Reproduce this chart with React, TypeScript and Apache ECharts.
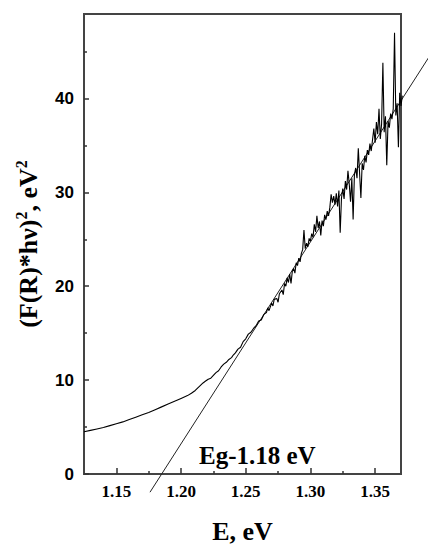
import React, { useEffect, useRef } from "react";
import * as echarts from "echarts";

// Measured spectrum: photon energy (eV) and (F(R)*hν)^2 (eV^2)
const curveE = [
  1.125, 1.13, 1.135, 1.14, 1.145, 1.15, 1.155, 1.16, 1.165, 1.17, 1.175, 1.18,
  1.185, 1.19, 1.195, 1.2, 1.205, 1.208, 1.211, 1.214, 1.217, 1.219, 1.221,
  1.223, 1.225, 1.227, 1.229, 1.231, 1.233, 1.235, 1.237, 1.239,
  1.24, 1.242, 1.244, 1.246, 1.248, 1.25, 1.252, 1.254, 1.256, 1.258, 1.26,
  1.262, 1.264, 1.266, 1.267, 1.268, 1.27, 1.271, 1.272, 1.274, 1.275, 1.276,
  1.278, 1.279, 1.28, 1.281, 1.282, 1.283, 1.284, 1.285, 1.286, 1.287, 1.288,
  1.289, 1.29, 1.291, 1.292, 1.293, 1.294, 1.295, 1.296, 1.297, 1.298, 1.299,
  1.3, 1.301, 1.302, 1.303, 1.304, 1.305, 1.306, 1.307, 1.308, 1.309, 1.31,
  1.311, 1.312, 1.313, 1.314, 1.315, 1.316, 1.317, 1.318, 1.319, 1.32, 1.321,
  1.322, 1.323, 1.324, 1.325, 1.326, 1.327, 1.328, 1.329, 1.33, 1.331, 1.332,
  1.333, 1.334, 1.335, 1.336, 1.337, 1.338, 1.339, 1.34, 1.341, 1.342, 1.343,
  1.344, 1.345, 1.346, 1.347, 1.348, 1.349, 1.35, 1.351, 1.352, 1.353, 1.354,
  1.355, 1.356, 1.357, 1.358, 1.359, 1.36, 1.361, 1.362, 1.363, 1.364, 1.365,
  1.366, 1.367, 1.368, 1.369, 1.37, 1.371,
];
const curveF = [
  4.5, 4.65, 4.8, 4.95, 5.15, 5.35, 5.55, 5.8, 6.05, 6.3, 6.55, 6.85,
  7.15, 7.45, 7.75, 8.05, 8.35, 8.6, 8.9, 9.3, 9.7, 9.9, 10.1,
  10.2, 10.5, 10.8, 11.0, 11.4, 11.7, 11.9, 12.2, 12.4,
  12.6, 12.9, 13.3, 13.5, 14.1, 14.4, 14.9, 15.1, 15.5, 15.8, 16.3,
  16.4, 17.0, 17.2, 17.7, 17.4, 18.2, 17.9, 18.6, 18.7, 18.3, 19.2,
  19.6, 19.1, 20.3, 20.0, 20.9, 20.4, 21.3, 20.3, 21.6, 21.9, 21.4,
  22.5, 22.2, 23.0, 22.6, 23.5, 23.9, 26.0, 24.0, 24.6, 24.2, 25.1,
  24.8, 25.6, 25.2, 26.6, 25.8, 27.5, 26.2, 26.9, 25.4, 27.0, 26.4,
  27.6, 27.1, 28.0, 27.5, 28.4, 29.8, 28.9, 29.6, 28.7, 29.9, 28.5,
  30.2, 25.7, 29.4, 30.4, 29.3, 31.2, 30.3, 32.3, 30.9, 29.0, 31.5,
  27.1, 31.9, 32.6, 31.5, 34.7, 32.0, 29.4, 33.1, 32.4, 33.9, 33.2,
  34.5, 34.0, 35.2, 34.4, 35.6, 36.8, 35.3, 37.5, 36.2, 38.9, 35.7,
  37.3, 43.8, 36.4, 38.1, 32.9, 37.6, 36.9, 38.4, 37.8, 38.9, 47.0,
  38.2, 39.5, 34.8, 40.6, 39.2, 40.3,
];

// Linear fit (Tauc extrapolation), Eg = 1.18 eV
const fitE = [1.176, 1.392];
const fitF = [-1.94, 44.5];

const xTicks = [1.15, 1.2, 1.25, 1.3, 1.35];
const xMinorTicks = [1.175, 1.225, 1.275, 1.325];
const yTicks = [0, 10, 20, 30, 40];
const yMinorTicks = [5, 15, 25, 35, 45];

const X_MIN = 1.125;
const X_MAX = 1.37;
const Y_MIN = 0;
const Y_MAX = 49;

const SERIF = '"Liberation Serif", "Times New Roman", serif';
const SANS = '"Liberation Sans", Arial, sans-serif';

export default function App() {
  const ref = useRef<HTMLDivElement>(null);

  useEffect(() => {
    document.body.style.margin = "0";
    if (!ref.current) return;
    const chart = echarts.init(ref.current, null, { renderer: "svg" });

    const tickLine = { color: "#333", width: 1.5 };

    const option = {
      animation: false,
      backgroundColor: "#fff",
      grid: {
        left: 84,
        right: 27,
        top: 14,
        bottom: 65,
        show: true,
        borderColor: "#444",
        borderWidth: 2,
        backgroundColor: "transparent",
      },
      xAxis: [
        {
          type: "value",
          min: X_MIN,
          max: X_MAX,
          position: "bottom",
          axisLine: { show: false },
          splitLine: { show: false },
          axisTick: {
            show: true,
            inside: true,
            length: 6,
            customValues: xTicks,
            lineStyle: tickLine,
          },
          axisLabel: {
            customValues: xTicks,
            formatter: (v: number) => v.toFixed(2),
            fontFamily: SERIF,
            fontWeight: "bold",
            fontSize: 17,
            color: "#000",
            margin: 9,
          },
          name: "E, eV",
          nameLocation: "middle",
          nameGap: 44,
          nameTextStyle: {
            fontFamily: SERIF,
            fontWeight: "bold",
            fontSize: 26,
            color: "#000",
          },
        },
        {
          type: "value",
          min: X_MIN,
          max: X_MAX,
          position: "bottom",
          offset: 0,
          axisLine: { show: false },
          splitLine: { show: false },
          axisLabel: { show: false },
          axisTick: {
            show: true,
            inside: true,
            length: 3,
            customValues: xMinorTicks,
            lineStyle: tickLine,
          },
        },
      ],
      yAxis: [
        {
          type: "value",
          min: Y_MIN,
          max: Y_MAX,
          position: "left",
          axisLine: { show: false },
          splitLine: { show: false },
          axisTick: {
            show: true,
            inside: true,
            length: 5,
            customValues: yTicks,
            lineStyle: tickLine,
          },
          axisLabel: {
            customValues: yTicks,
            fontFamily: SANS,
            fontWeight: "bold",
            fontSize: 17,
            color: "#000",
            margin: 10,
          },
          name: "{a|(F(R)*hν)}{s|2}{a|, eV}{s|2}",
          nameLocation: "middle",
          nameRotate: 90,
          nameGap: 41,
          nameTextStyle: {
            color: "#000",
            rich: {
              a: {
                fontFamily: SERIF,
                fontWeight: "bold",
                fontSize: 26,
                lineHeight: 30,
                color: "#000",
              },
              s: {
                fontFamily: SERIF,
                fontWeight: "bold",
                fontSize: 16,
                lineHeight: 18,
                verticalAlign: "top",
                color: "#000",
              },
            },
          },
        },
        {
          type: "value",
          min: Y_MIN,
          max: Y_MAX,
          position: "left",
          offset: 0,
          axisLine: { show: false },
          splitLine: { show: false },
          axisLabel: { show: false },
          axisTick: {
            show: true,
            inside: true,
            length: 3,
            customValues: yMinorTicks,
            lineStyle: tickLine,
          },
        },
      ],
      series: [
        {
          type: "line",
          xAxisIndex: 0,
          yAxisIndex: 0,
          data: curveE.map((e, i) => [e, curveF[i]]),
          showSymbol: false,
          symbol: "none",
          lineStyle: { color: "#000", width: 1.1 },
          z: 3,
        },
      ],
    };

    chart.setOption(option as any);

    // Extrapolated linear fit, positioned through the chart's own scales.
    const p1 = chart.convertToPixel({ gridIndex: 0 }, [fitE[0], fitF[0]]) as number[];
    const p2 = chart.convertToPixel({ gridIndex: 0 }, [fitE[1], fitF[1]]) as number[];

    chart.setOption({
      graphic: [
        {
          type: "line",
          z: 2,
          shape: { x1: p1[0], y1: p1[1], x2: p2[0], y2: p2[1] },
          style: { stroke: "#222", lineWidth: 1 },
        },
        {
          type: "text",
          left: 199,
          top: 443,
          z: 5,
          style: {
            text: "Eg-1.18 eV",
            font: `bold 25px ${SERIF}`,
            fill: "#000",
          },
        },
      ],
    });

    return () => chart.dispose();
  }, []);

  return (
    <div
      ref={ref}
      style={{ position: "fixed", left: 0, top: 0, width: 428, height: 549 }}
    />
  );
}
